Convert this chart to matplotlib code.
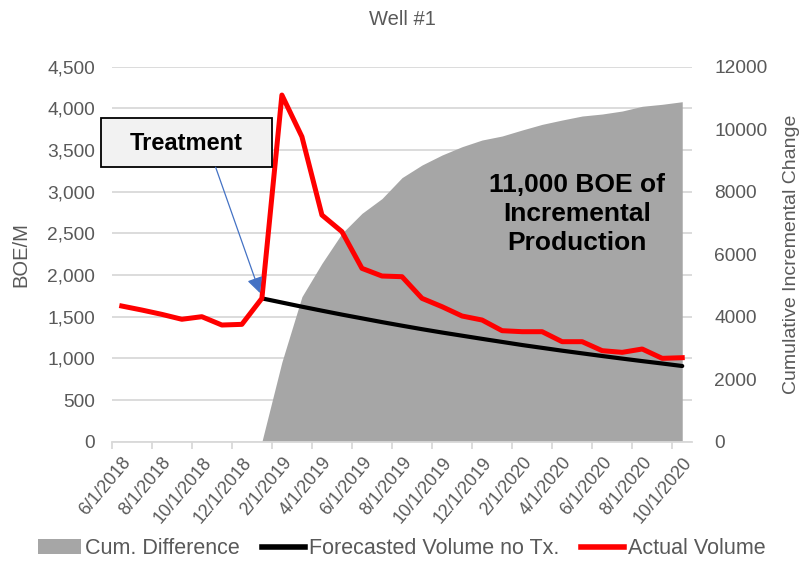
import numpy as np
import pandas as pd
import matplotlib
matplotlib.use("Agg")
import matplotlib.pyplot as plt
from matplotlib.patches import Rectangle, Patch
from matplotlib.lines import Line2D

plt.rcParams["font.family"] = ["Liberation Sans", "DejaVu Sans"]

# --- datos ---
meses = pd.date_range("2018-06-01", "2020-10-01", freq="MS")
actual = [1628, 1580, 1528, 1469, 1500, 1400, 1408,
          1720, 4160, 3660, 2720, 2520, 2080, 1988, 1980, 1720, 1620, 1508, 1460,
          1332, 1320, 1320, 1200, 1200, 1092, 1072, 1112, 1000, 1008]
pronostico = [np.nan] * 7 + [1720, 1670, 1620, 1572, 1525, 1480, 1435, 1392, 1350,
                             1310, 1272, 1234, 1197, 1160, 1126, 1092, 1060, 1028,
                             997, 967, 938, 908]
cum_dif = [np.nan] * 7 + [0, 2550, 4640, 5708, 6667, 7307, 7780, 8450, 8854, 9174,
                          9440, 9654, 9782, 9974, 10155, 10294, 10422, 10486,
                          10582, 10733, 10797, 10880]
etiquetas = [f"{d.month}/1/{d.year}" for d in meses]

GRIS_TXT = "#595959"
x = np.arange(len(meses))

fig = plt.figure(figsize=(8.04, 5.63), dpi=100)
ax = fig.add_axes([0.139, 0.2155, 0.722, 0.666])
ax2 = ax.twinx()

ax.set_xlim(-0.5, len(meses) - 0.5)
ax.set_ylim(0, 4500)
ax2.set_ylim(0, 12000)

# area acumulada (escala derecha) dibujada en ax para que quede debajo de las lineas
ax.fill_between(x, 0, np.array(cum_dif, dtype=float), color="#A6A6A6", lw=0,
                transform=ax2.transData, zorder=1)
ax.plot(x, pronostico, color="black", lw=3.0, zorder=3, solid_capstyle="round")
ax.plot(x, actual, color="#FF0000", lw=3.6, zorder=4, solid_joinstyle="round")

# ejes
ax.set_yticks(np.arange(0, 4501, 500))
ax.set_yticklabels([f"{v:,}" for v in range(0, 4501, 500)])
ax2.set_yticks(np.arange(0, 12001, 2000))
ax.grid(axis="y", color="#D9D9D9", lw=1.3)
ax.set_axisbelow(True)
ax.set_xticks(x[::2])
ax.set_xticklabels(etiquetas[::2], rotation=50, ha="right", rotation_mode="anchor",
                   fontsize=13, color=GRIS_TXT)
ax.set_xticks(np.arange(-0.5, len(meses), 2), minor=True)
ax.tick_params(axis="x", which="major", length=0, pad=9)
ax.tick_params(axis="x", which="minor", length=5, color="#D9D9D9", width=1.3)
ax.tick_params(axis="y", length=0, labelsize=13.8, labelcolor=GRIS_TXT, pad=12)
ax2.tick_params(axis="y", length=0, labelsize=13.8, labelcolor=GRIS_TXT, pad=16)
for a in (ax, ax2):
    for s in ("top", "right", "left"):
        a.spines[s].set_visible(False)
ax2.spines["bottom"].set_visible(False)
ax.spines["bottom"].set_color("#D9D9D9")
ax.spines["bottom"].set_linewidth(1.3)

ax.set_ylabel("BOE/M", fontsize=14.5, color=GRIS_TXT, labelpad=12)
ax2.set_ylabel("Cumulative Incremental Change", fontsize=14, color=GRIS_TXT, labelpad=11)
ax.set_title("Well #1", fontsize=14.5, color=GRIS_TXT, pad=30)

# caja "Treatment" con flecha
ax.add_patch(Rectangle((-0.0178, 0.7317), 0.2942, 0.1323, transform=ax.transAxes,
                       facecolor="#F2F2F2", edgecolor="black", lw=1.3,
                       clip_on=False, zorder=5))
ax.text(0.129, 0.795, "Treatment", transform=ax.transAxes, ha="center", va="center",
        fontsize=17, fontweight="bold", zorder=6)
ax.annotate("", xy=(7, pronostico[7]), xytext=(0.179, 0.7317),
            textcoords="axes fraction",
            arrowprops=dict(arrowstyle="-|>,head_length=0.6,head_width=0.3",
                            color="#4472C4", lw=0.9, shrinkA=0, shrinkB=4,
                            mutation_scale=16), zorder=6)

ax.text(0.802, 0.607, "11,000 BOE of\nIncremental\nProduction", transform=ax.transAxes,
        ha="center", va="center", fontsize=19, fontweight="bold", linespacing=1.25,
        zorder=6)

handles = [Patch(facecolor="#A6A6A6", edgecolor="none"),
           Line2D([], [], color="black", lw=4),
           Line2D([], [], color="#FF0000", lw=4)]
fig.legend(handles, ["Cum. Difference", "Forecasted Volume no Tx.", "Actual Volume"],
           loc="center", bbox_to_anchor=(0.5, 0.025), ncol=3, frameon=False,
           fontsize=15.5, labelcolor=GRIS_TXT, handlelength=2.0, handletextpad=0.2,
           columnspacing=1.0)

fig.savefig("out.png", dpi=100)
